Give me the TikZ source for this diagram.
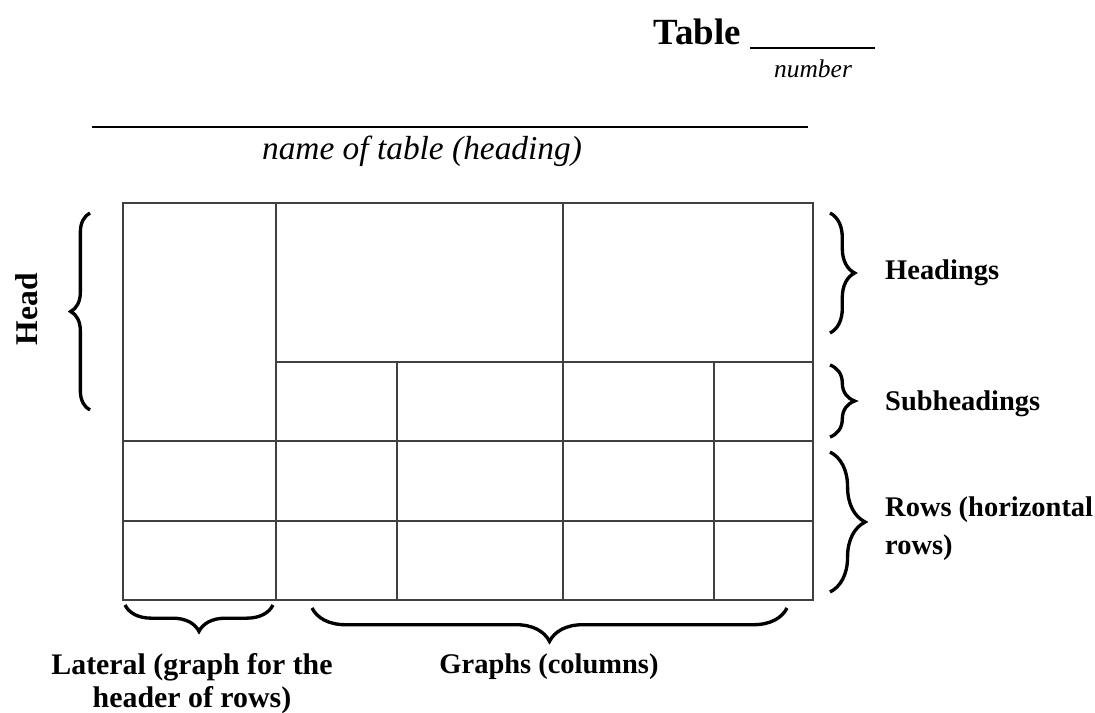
\documentclass[tikz,border=0pt]{standalone}
\usepackage{fontspec}
\setmainfont{Liberation Serif}
\usetikzlibrary{decorations.pathreplacing}
\tikzset{
  brace/.style={decorate,decoration={brace,amplitude=#1},line width=1.9pt},
  lbl/.style={font=\bfseries\fontsize{16.2}{21.5}\selectfont},
  grid/.style={black!75,line width=.6pt}
}
\begin{document}
\begin{tikzpicture}[x=.02cm,y=-.02cm]
\useasboundingbox (0,0) rectangle (1095,713);
% title and number
\node[anchor=base east,inner sep=0,font=\bfseries\fontsize{21}{24}\selectfont] (title) at (741,45) {Table};
\draw[line width=1pt] (750,48) -- (875,48);
\node[font=\itshape\fontsize{14.5}{18}\selectfont] (num) at (813,69) {number};
% name of table
\draw[line width=1pt] (92,127) -- (808,127);
\node[font=\itshape\fontsize{19}{22}\selectfont] (heading) at (422,151) {name of table (heading)};
% the table
\draw[grid] (123,203) rectangle (813,600);
\foreach \y in {441,521}
\draw[grid] (123,\y) -- (813,\y);
\draw[grid] (276,362) -- (813,362);
\foreach \x in {276,563}
\draw[grid] (\x,203) -- (\x,600);
\foreach \x in {397,714}
\draw[grid] (\x,362) -- (\x,600);
% braces
\draw[brace=11pt] (90,410) -- (90,213);
\draw[brace=14pt] (830,213) -- (830,333);
\draw[brace=14pt] (830,365) -- (830,437);
\draw[brace=20pt] (830,452) -- (830,592);
\draw[brace=15pt] (273,605) -- (125,605);
\draw[brace=19pt] (787,608) -- (312,608);
% labels
\node[lbl,rotate=90,font=\bfseries\fontsize{18}{20}\selectfont] (head) at (27,309) {Head};
\node[lbl,anchor=west] (headings) at (879,273) {Headings};
\node[lbl,anchor=west] (subheadings) at (879,404) {Subheadings};
\node[lbl,anchor=west,align=left] (rows) at (879,529) {Rows (horizontal\\rows)};
\node[lbl,align=center,font=\bfseries\fontsize{17}{18.7}\selectfont] (lateral) at (192,684) {Lateral (graph for the\\header of rows)};
\node[lbl] (graphs) at (549,667) {Graphs (columns)};
\end{tikzpicture}
\end{document}
